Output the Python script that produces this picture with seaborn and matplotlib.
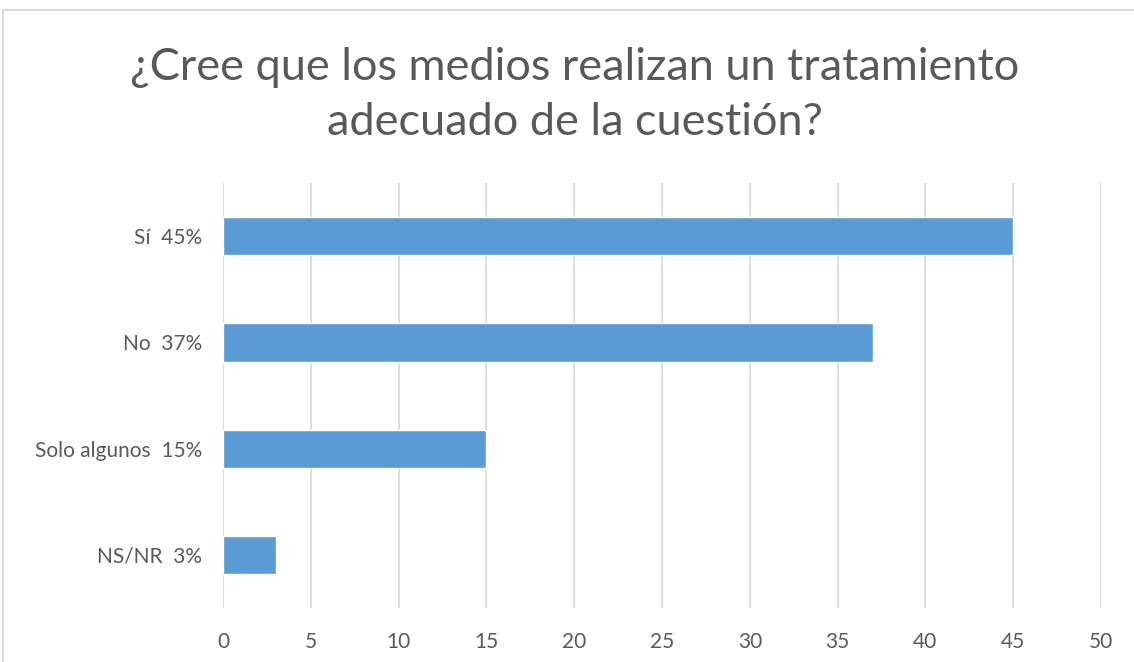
import matplotlib
matplotlib.use("Agg")
import matplotlib.pyplot as plt
import seaborn as sns
import pandas as pd
from matplotlib.patches import Rectangle

categories = ["Sí  45%", "No  37%", "Solo algunos  15%", "NS/NR  3%"]
values = [45, 37, 15, 3]
xticks = [0, 5, 10, 15, 20, 25, 30, 35, 40, 45, 50]
title = "¿Cree que los medios realizan un tratamiento\nadecuado de la cuestión?"

sns.set_style("white")
plt.rcParams['font.family'] = ['Lato', 'DejaVu Sans']

df = pd.DataFrame({"cat": categories, "val": values})

W, H = 1134, 662
fig = plt.figure(figsize=(W / 100, H / 100), dpi=100)
ax = fig.add_axes([223 / W, 1 - 608 / H, (1101 - 223) / W, (608 - 183) / H])

sns.barplot(data=df, x="val", y="cat", color="#5B9BD5", saturation=1,
            width=0.36, ax=ax, orient="h")

ax.set_xlim(0, 50)
ax.set_xticks(xticks)
ax.set_xticklabels([str(t) for t in xticks])
ax.xaxis.grid(True, color="#D9D9D9", linewidth=1.3)
ax.set_axisbelow(True)
for s in ax.spines.values():
    s.set_visible(False)
ax.set_xlabel("")
ax.set_ylabel("")
ax.tick_params(axis="both", length=0, labelcolor="#595959", labelsize=15)
ax.tick_params(axis="x", pad=17)
ax.tick_params(axis="y", pad=15)

fig.text(575 / W, 1 - 95 / H, title, ha="center", va="center",
         fontsize=32.5, color="#595959", linespacing=1.42)

fig.patches.append(Rectangle((3 / W, -0.1), 1.2, 1 - 10 / H + 0.1,
                             transform=fig.transFigure, fill=False,
                             edgecolor="#D9D9D9", linewidth=1.5))

fig.savefig("out.png", dpi=100)
